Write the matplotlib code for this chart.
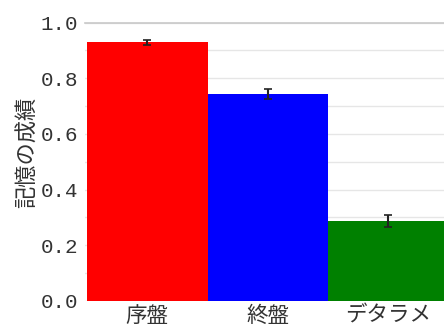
import matplotlib
matplotlib.use('Agg')
import matplotlib.pyplot as plt
from matplotlib.ticker import MultipleLocator

# 記憶課題の成績（条件ごとの平均と標準誤差）
conditions = ['序盤', '終盤', 'デタラメ']
scores = [0.929, 0.743, 0.287]
errors = [0.008, 0.017, 0.021]
bar_colors = ['red', 'blue', 'green']

jp_font = ['Noto Sans CJK JP', 'DejaVu Sans']

fig = plt.figure(figsize=(4.44, 3.28), dpi=100)
ax = fig.add_axes([85 / 444, 1 - 300.7 / 328, 1 - 85 / 444, (300.7 - 22.7) / 328])

x = range(len(conditions))
ax.bar(x, scores, width=1.0, color=bar_colors, zorder=2)
ax.errorbar(x, scores, yerr=errors, fmt='none', ecolor='#222222',
            elinewidth=1.5, capsize=3, capthick=1.2, zorder=3)

ax.set_xlim(-0.517, 2.463)
ax.set_ylim(0, 1.0)

ax.yaxis.set_major_locator(MultipleLocator(0.2))
ax.yaxis.set_minor_locator(MultipleLocator(0.1))
ax.grid(True, which='both', axis='y', color='#e6e6e6', linewidth=1.0, zorder=0)
ax.set_axisbelow(True)

for side in ['left', 'right', 'bottom']:
    ax.spines[side].set_visible(False)
ax.spines['top'].set_color('#c8c8c8')
ax.spines['top'].set_linewidth(1.2)

ax.set_xticks(list(x))
ax.set_xticklabels(conditions, family=jp_font, fontsize=15.5, color='#333333')
ax.tick_params(axis='x', length=0, pad=3)

ax.set_yticks([0.0, 0.2, 0.4, 0.6, 0.8, 1.0])
ax.set_yticklabels([f'{v:.1f}' for v in [0.0, 0.2, 0.4, 0.6, 0.8, 1.0]],
                   family='Liberation Mono', fontsize=15, color='#333333')
ax.tick_params(axis='y', which='both', length=0, pad=5)

ax.set_ylabel('記憶の成績', family=jp_font, fontsize=16, color='#333333')
ax.yaxis.set_label_coords(-0.13, 0.535)

fig.savefig('out.png', dpi=100)
